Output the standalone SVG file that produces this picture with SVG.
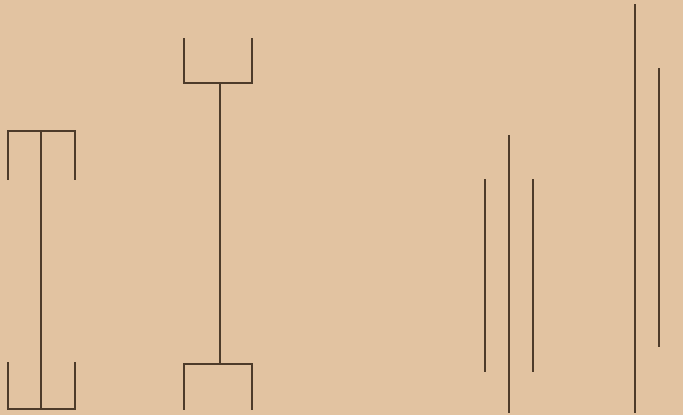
<svg xmlns="http://www.w3.org/2000/svg" width="683" height="415" viewBox="0 0 683 415">
<style>
.l{stroke:#4d3b2a;stroke-width:2;fill:none;stroke-linecap:butt;stroke-linejoin:miter}
</style>
<rect width="683" height="415" fill="#e2c3a1"/>
<g id="figure1">
<polyline class="l" points="8,180 8,131 75,131 75,180"/>
<line class="l" x1="41" y1="131" x2="41" y2="409"/>
<polyline class="l" points="8,362 8,409 75,409 75,362"/>
</g>
<g id="figure2">
<polyline class="l" points="184,38 184,83 252,83 252,38"/>
<line class="l" x1="220" y1="83" x2="220" y2="364"/>
<polyline class="l" points="184,410 184,364 252,364 252,410"/>
</g>
<g id="figure3">
<line class="l" x1="485" y1="179" x2="485" y2="372"/>
<line class="l" x1="509" y1="135" x2="509" y2="413"/>
<line class="l" x1="533" y1="179" x2="533" y2="372"/>
</g>
<g id="figure4">
<line class="l" x1="635" y1="4" x2="635" y2="413"/>
<line class="l" x1="659" y1="68" x2="659" y2="347"/>
</g>
</svg>
